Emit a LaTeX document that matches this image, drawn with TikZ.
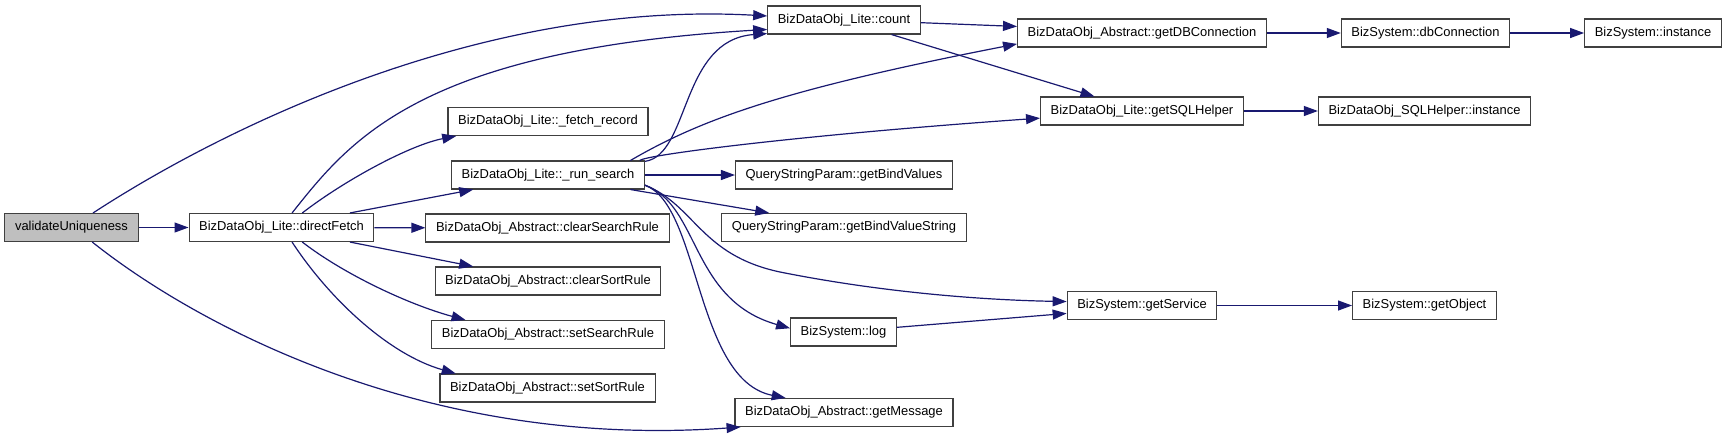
\documentclass[tikz,border=0pt]{standalone}
\usepackage{fontspec}
\setmainfont{Liberation Sans}
\usetikzlibrary{arrows.meta}
\definecolor{garis}{HTML}{191970}
\definecolor{bingkai}{HTML}{404040}
\begin{document}
\begin{tikzpicture}[x=0.75pt, y=-0.75pt,
    fungsi/.style={draw=bingkai, line width=0.8pt, fill=white, minimum height=21pt,
        inner xsep=7.6pt, inner ysep=0pt, font=\fontsize{9.7}{11}\selectfont},
    utama/.style={fungsi, fill=gray!50},
    panggil/.style={garis, line width=0.9pt, -{Triangle[length=10.5pt,width=7.5pt]}}]
    \useasboundingbox (0,0) rectangle (1731,440);

    % Simpul fungsi
    \node[utama]  (vu)    at (71.5,227.5)  {validateUniqueness};
    \node[fungsi] (fetch) at (281.5,227.5) {BizDataObj\_Lite::directFetch};
    \node[fungsi] (frec)  at (548,121.5)   {BizDataObj\_Lite::\_fetch\_record};
    \node[fungsi] (runs)  at (548,175)     {BizDataObj\_Lite::\_run\_search};
    \node[fungsi] (csr)   at (547.5,228)   {BizDataObj\_Abstract::clearSearchRule};
    \node[fungsi] (csort) at (548,281)     {BizDataObj\_Abstract::clearSortRule};
    \node[fungsi] (ssr)   at (548,334.5)   {BizDataObj\_Abstract::setSearchRule};
    \node[fungsi] (ssort) at (547.5,388)   {BizDataObj\_Abstract::setSortRule};
    \node[fungsi] (cnt)   at (844,20)      {BizDataObj\_Lite::count};
    \node[fungsi] (gbv)   at (844,175)     {QueryStringParam::getBindValues};
    \node[fungsi] (gbvs)  at (844,227.5)   {QueryStringParam::getBindValueString};
    \node[fungsi] (slog)  at (843.5,332)   {BizSystem::log};
    \node[fungsi] (gmsg)  at (844,412.5)   {BizDataObj\_Abstract::getMessage};
    \node[fungsi] (gdb)   at (1142,33)     {BizDataObj\_Abstract::getDBConnection};
    \node[fungsi] (gsql)  at (1142,111)    {BizDataObj\_Lite::getSQLHelper};
    \node[fungsi] (gsvc)  at (1142,305.5)  {BizSystem::getService};
    \node[fungsi] (dbc)   at (1425.5,33)   {BizSystem::dbConnection};
    \node[fungsi] (hinst) at (1424.5,111)  {BizDataObj\_SQLHelper::instance};
    \node[fungsi] (gobj)  at (1424.5,305.5) {BizSystem::getObject};
    \node[fungsi] (sinst) at (1653,33)     {BizSystem::instance};

    % Panggilan dari validateUniqueness
    \draw[panggil] (vu.34) .. controls (220,130) and (480,0) .. (cnt.177);
    \draw[panggil] (vu) -- (fetch);
    \draw[panggil] (vu.-35) .. controls (190,320) and (420,450) .. (gmsg.188);

    % Panggilan dari directFetch
    \draw[panggil] (fetch.54) .. controls (350,140) and (420,50) .. (cnt.187);
    \draw[panggil] (fetch.35) .. controls (345,180) and (410,145) .. (frec.189);
    \draw[panggil] (fetch.12) -- (runs.191);
    \draw[panggil] (fetch) -- (csr);
    \draw[panggil] (fetch.-12) -- (csort.169);
    \draw[panggil] (fetch.-35) .. controls (345,275) and (410,305) .. (ssr.170);
    \draw[panggil] (fetch.-54) .. controls (330,300) and (390,355) .. (ssort.171);

    % Panggilan dari _run_search
    \draw[panggil] (runs.8) .. controls (690,155) and (680,40) .. (cnt.190);
    \draw[panggil] (runs.10) .. controls (700,120) and (780,90) .. (gdb.185);
    \draw[panggil] (runs.9) .. controls (645,155) and (800,135) .. (gsql.184);
    \draw[panggil] (runs) -- (gbv);
    \draw[panggil] (runs.-10) -- (gbvs.169);
    \draw[panggil] (runs.-6) .. controls (695,205) and (700,255) .. (780,272)
        .. controls (880,292) and (980,300) .. (gsvc.177);
    \draw[panggil] (runs.-6) .. controls (700,205) and (690,300) .. (slog.176);
    \draw[panggil] (runs.-6) .. controls (700,205) and (695,380) .. (gmsg.166);

    % Panggilan lanjutan
    \draw[panggil] (cnt.-2) -- (gdb.177);
    \draw[panggil] (cnt.-17) -- (gsql.163);
    \draw[panggil] (gdb) -- (dbc);
    \draw[panggil] (dbc) -- (sinst);
    \draw[panggil] (gsql) -- (hinst);
    \draw[panggil] (slog.5) -- (gsvc.186);
    \draw[panggil] (gsvc) -- (gobj);
\end{tikzpicture}
\end{document}
